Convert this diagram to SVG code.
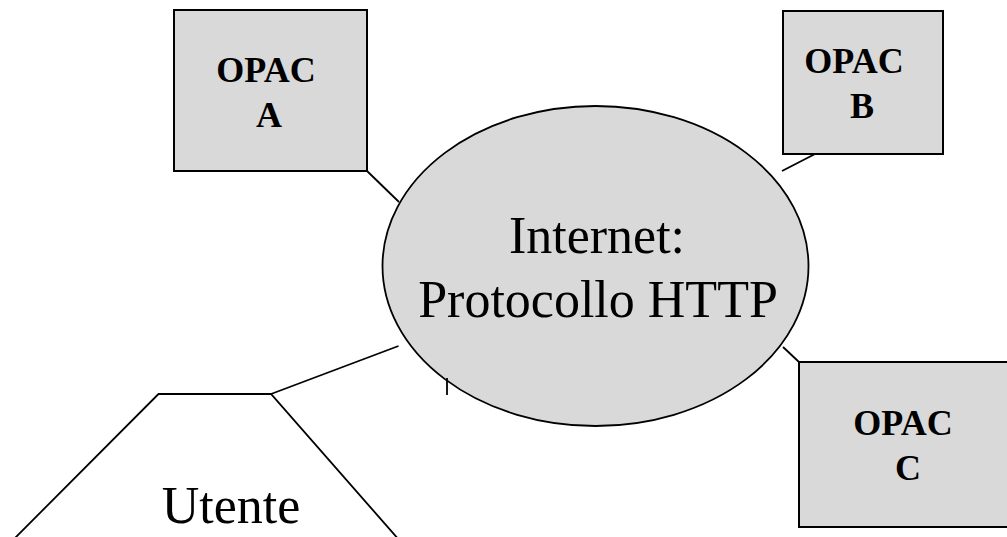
<svg xmlns="http://www.w3.org/2000/svg" width="1007" height="537" viewBox="0 0 1007 537">
<style>
.box{fill:#d9d9d9;stroke:#000;stroke-width:2}
.ell{fill:#d9d9d9;stroke:#000;stroke-width:1.8}
.conn{fill:none;stroke:#000;stroke-width:1.8}
.lbl{font-family:"Liberation Serif","Times New Roman",serif;font-weight:bold;font-size:36px;fill:#000}
.big{font-family:"Liberation Serif","Times New Roman",serif;font-size:52px;fill:#000;text-anchor:middle}
</style>
<rect width="1007" height="537" fill="#fff"/>
<g id="connectors">
<line class="conn" x1="366.5" y1="170.5" x2="399" y2="202"/>
<line class="conn" x1="815" y1="154" x2="782" y2="171"/>
<line class="conn" x1="783" y1="347" x2="799" y2="362"/>
<line class="conn" x1="271" y1="394" x2="398.5" y2="346"/>
</g>
<g id="internet">
<ellipse class="ell" cx="595.5" cy="266" rx="213" ry="160"/>
<text class="big" x="597" y="253">Internet:</text>
<text class="big" x="598" y="317">Protocollo HTTP</text>
</g>
<line class="conn" x1="447" y1="378" x2="447" y2="395"/>
<g id="opacA">
<rect class="box" x="174" y="10" width="193" height="161"/>
<text class="lbl" x="266" y="82" text-anchor="middle">OPAC</text>
<text class="lbl" x="269" y="127" text-anchor="middle">A</text>
</g>
<g id="opacB">
<rect class="box" x="783" y="11" width="160" height="143"/>
<text class="lbl" x="854" y="73" text-anchor="middle">OPAC</text>
<text class="lbl" x="862" y="118" text-anchor="middle">B</text>
</g>
<g id="opacC">
<rect class="box" x="799" y="362" width="220" height="165"/>
<text class="lbl" x="903" y="435" text-anchor="middle">OPAC</text>
<text class="lbl" x="908" y="480" text-anchor="middle">C</text>
</g>
<g id="utente">
<polyline class="conn" points="13,540 158.5,394 271,394 400,541"/>
<text class="big" x="231" y="523">Utente</text>
</g>
</svg>
